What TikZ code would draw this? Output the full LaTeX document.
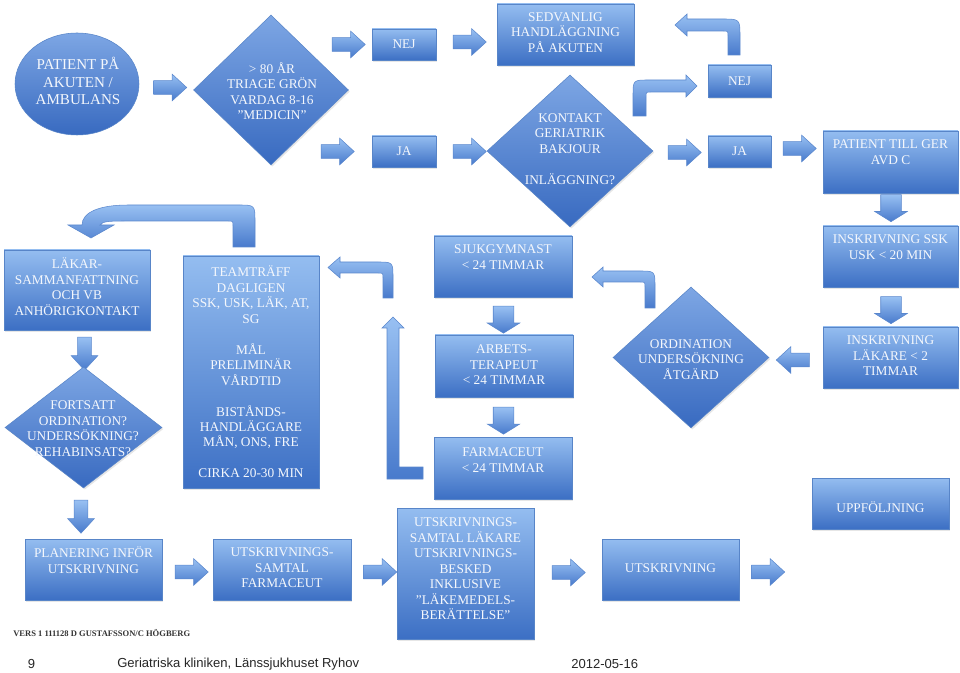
\documentclass[tikz,border=0pt]{standalone}
\usepackage{fontspec}
\setmainfont{Liberation Serif}
\newfontfamily\footfont{Liberation Sans}
\usetikzlibrary{shapes.geometric,shapes.arrows,shadows}

\definecolor{boxtop}{RGB}{148,189,240}
\definecolor{boxbot}{RGB}{60,111,196}
\definecolor{boxline}{RGB}{88,133,200}
\definecolor{diatop}{RGB}{125,166,228}
\definecolor{diabot}{RGB}{56,106,192}
\definecolor{arrtop}{RGB}{152,192,242}
\definecolor{arrbot}{RGB}{72,122,204}
\definecolor{arrline}{RGB}{90,135,205}
\definecolor{txtwhite}{RGB}{244,247,252}

\begin{document}
\begin{tikzpicture}[x=0.75pt,y=0.75pt,yscale=-1,xscale=1,
  box/.style 2 args={draw=boxline, top color=boxtop, bottom color=boxbot,
    minimum width=#1*0.75pt, minimum height=#2*0.75pt, inner sep=0pt,
    drop shadow={opacity=0.2, shadow xshift=1pt, shadow yshift=-1.2pt}},
  diam/.style 2 args={diamond, draw=boxline, top color=diatop, bottom color=diabot,
    minimum width=#1*0.75pt, minimum height=#2*0.75pt, inner sep=0pt,
    drop shadow={opacity=0.2, shadow xshift=1pt, shadow yshift=-1.2pt}},
  startoval/.style={ellipse, draw=boxline, top color=diatop, bottom color=diabot,
    minimum width=93pt, minimum height=76.5pt, inner sep=0pt},
  rarrow/.style={single arrow, single arrow head extend=4.9pt, single arrow tip angle=85,
    minimum width=19.5pt, minimum height=24.75pt, inner sep=4.9pt,
    draw=arrline, top color=arrtop, bottom color=arrbot},
  darrow/.style={single arrow, shape border rotate=270, single arrow head extend=4.5pt,
    single arrow tip angle=116, minimum width=24pt, minimum height=15pt, inner sep=7.5pt,
    draw=arrline, top color=arrtop, bottom color=arrbot},
  bendarrow/.style={draw=arrline, top color=arrtop, bottom color=arrbot},
  txt/.style={text=txtwhite, align=center, inner sep=0pt, font=\fontsize{10}{11.6}\selectfont},
  foot/.style={anchor=west, inner sep=0pt, text=black!85, font=\footfont\fontsize{9.8}{11}\selectfont}
]
\useasboundingbox (0,0) rectangle (960,673);

%Shape: Ellipse
\node[startoval] (start) at (77,84) {};
%Right Arrow
\node[rarrow] (ar1) at (166.5,87.5) {};
%Shape: Diamond
\node[diam={155}{150}] (triage) at (271,90) {};
%Right Arrow
\node[rarrow] (ar2) at (345,44.5) {};
%Right Arrow
\node[rarrow] (ar3) at (334,151.5) {};
%Shape: Rectangle
\node[box={64}{31}] (nej1) at (404,44.5) {};
%Shape: Rectangle
\node[box={64}{31}] (ja1) at (404,151.5) {};
%Right Arrow
\node[rarrow] (ar4) at (466,42) {};
%Right Arrow
\node[rarrow] (ar5) at (466,151.5) {};
%Shape: Rectangle
\node[box={137}{61}] (sedv) at (565.5,34.5) {};
%Shape: Diamond
\node[diam={166}{152}] (kontakt) at (570,151) {};
%Shape: Bend Arrow
\path[bendarrow] (633,116) -- (633,96) .. controls (633,80) .. (649,80) -- (686,80) -- (686,75) -- (697,86) -- (686,97) -- (686,92) -- (651,92) .. controls (646,92) .. (646,97) -- (646,116) -- cycle;
%Shape: Rectangle
\node[box={63}{32}] (nej2) at (739.5,81) {};
%Shape: Bend Arrow
\path[bendarrow] (728,55) -- (728,36) .. controls (728,31) .. (723,31) -- (687,31) -- (687,36) -- (675,25) -- (687,14) -- (687,19) -- (722,19) .. controls (740,19) .. (740,37) -- (740,55) -- cycle;
%Right Arrow
\node[rarrow] (ar6) at (681,152.5) {};
%Shape: Rectangle
\node[box={63}{31}] (ja2) at (739.5,151.5) {};
%Right Arrow
\node[rarrow] (ar7) at (796,148.5) {};
%Shape: Rectangle
\node[box={135}{62}] (gerc) at (890.5,162) {};
%Down Arrow
\node[darrow] (dn1) at (891,205) {};
%Shape: Rectangle
\node[box={135}{61}] (ssk) at (890.5,256.5) {};
%Down Arrow
\node[darrow] (dn2) at (891,307) {};
%Shape: Rectangle
\node[box={135}{61}] (lakare) at (890.5,357.5) {};
%Left Arrow
\node[rarrow, shape border rotate=180] (al1) at (796.5,360) {};
%Shape: Diamond
\node[diam={156}{141}] (ordination) at (691,357.5) {};
%Shape: Bend Arrow
\path[bendarrow] (645,308) -- (645,287) .. controls (645,282) .. (640,282) -- (603,282) -- (603,287) -- (592,277) -- (603,267) -- (603,271) -- (639,271) .. controls (655,271) .. (655,287) -- (655,308) -- cycle;
%Shape: Rectangle
\node[box={138}{61}] (sjuk) at (503,266.5) {};
%Down Arrow
\node[darrow] (dn3) at (503.5,316.5) {};
%Shape: Rectangle
\node[box={138}{62}] (arbets) at (504,366) {};
%Down Arrow
\node[darrow] (dn4) at (503.5,417.5) {};
%Shape: Rectangle
\node[box={138}{62}] (farma) at (503,468) {};
%Shape: L Arrow
\path[bendarrow] (423,467) -- (399,467) -- (399,328) -- (404,328) -- (393,317) -- (382,328) -- (387,328) -- (387,479) -- (423,479) -- cycle;
%Shape: Bend Arrow
\path[bendarrow] (383,298) -- (383,278) .. controls (383,273) .. (378,273) -- (340,273) -- (340,278) -- (328,267.5) -- (340,257) -- (340,262) -- (377,262) .. controls (393,262) .. (393,278) -- (393,298) -- cycle;
%Shape: Rectangle
\node[box={136}{232}] (team) at (251,372) {};
%Shape: Bend Arrow
\path[bendarrow] (255,247) -- (255,222) .. controls (255,205) .. (238,205) -- (128,205) .. controls (100,205) and (82,212) .. (82,225) -- (68,225) -- (91,238) -- (114,225) -- (100,225) .. controls (102,221) and (112,221) .. (128,221) -- (228,221) .. controls (233,221) .. (233,226) -- (233,247) -- cycle;
%Shape: Rectangle
\node[box={146}{80}] (lsam) at (77,290) {};
%Down Arrow
\node[rarrow, shape border rotate=270] (dn5) at (84.5,350) {};
%Shape: Diamond
\node[diam={157}{121}] (fortsatt) at (83.5,427.5) {};
%Down Arrow
\node[rarrow, shape border rotate=270] (dn6) at (81,513) {};
%Shape: Rectangle
\node[box={137}{61}] (plan) at (93.5,569.5) {};
%Right Arrow
\node[rarrow] (ar9) at (188,572) {};
%Shape: Rectangle
\node[box={138}{61}] (samf) at (282,569.5) {};
%Right Arrow
\node[rarrow] (ar10) at (376.5,572) {};
%Shape: Rectangle
\node[box={137}{131}] (saml) at (465.5,573.5) {};
%Right Arrow
\node[rarrow] (ar11) at (565,572.5) {};
%Shape: Rectangle
\node[box={137}{61}] (utskr) at (670.5,569.5) {};
%Right Arrow
\node[rarrow] (ar12) at (764.5,572) {};
%Shape: Rectangle
\node[box={137}{51}] (uppf) at (880.5,503.5) {};

% Text Node
\node[txt, font=\fontsize{11.3}{13.1}\selectfont] (start-t) at (78,81) {PATIENT PÅ\\AKUTEN /\\AMBULANS};
% Text Node
\node[txt] (triage-t) at (272,91) {> 80 ÅR\\TRIAGE GRÖN\\VARDAG 8-16\\”MEDICIN”};
% Text Node
\node[txt] (nej1-t) at (404,44.5) {NEJ};
% Text Node
\node[txt] (ja1-t) at (404,151.5) {JA};
% Text Node
\node[txt] (sedv-t) at (565.5,32.5) {SEDVANLIG\\HANDLÄGGNING\\PÅ AKUTEN};
% Text Node
\node[txt] (kontakt-t) at (570,149) {KONTAKT\\GERIATRIK\\BAKJOUR\\[11.6pt]INLÄGGNING?};
% Text Node
\node[txt] (nej2-t) at (739.5,81) {NEJ};
% Text Node
\node[txt] (ja2-t) at (739.5,151.5) {JA};
% Text Node
\node[txt] (gerc-t) at (890.5,152) {PATIENT TILL GER\\AVD C};
% Text Node
\node[txt] (ssk-t) at (890.5,247) {INSKRIVNING SSK\\USK < 20 MIN};
% Text Node
\node[txt] (lakare-t) at (890.5,356) {INSKRIVNING\\LÄKARE < 2\\TIMMAR};
% Text Node
\node[txt] (ordination-t) at (691,359.5) {ORDINATION\\UNDERSÖKNING\\ÅTGÄRD};
% Text Node
\node[txt] (sjuk-t) at (503,257) {SJUKGYMNAST\\< 24 TIMMAR};
% Text Node
\node[txt] (arbets-t) at (504,365) {ARBETS-\\TERAPEUT\\< 24 TIMMAR};
% Text Node
\node[txt] (farma-t) at (503,460) {FARMACEUT\\< 24 TIMMAR};
% Text Node
\node[txt] (team-t) at (251,372) {TEAMTRÄFF\\DAGLIGEN\\SSK, USK, LÄK, AT,\\SG\\[11.6pt]MÅL\\PRELIMINÄR\\VÅRDTID\\[11.6pt]BISTÅNDS-\\HANDLÄGGARE\\MÅN, ONS, FRE\\[11.6pt]CIRKA 20-30 MIN};
% Text Node
\node[txt] (lsam-t) at (77,286.5) {LÄKAR-\\SAMMANFATTNING\\OCH VB\\ANHÖRIGKONTAKT};
% Text Node
\node[txt] (fortsatt-t) at (83,428.5) {FORTSATT\\ORDINATION?\\UNDERSÖKNING?\\REHABINSATS?};
% Text Node
\node[txt] (plan-t) at (93.5,560) {PLANERING INFÖR\\UTSKRIVNING};
% Text Node
\node[txt] (samf-t) at (282,568) {UTSKRIVNINGS-\\SAMTAL\\FARMACEUT};
% Text Node
\node[txt] (saml-t) at (465.5,569) {UTSKRIVNINGS-\\SAMTAL LÄKARE\\UTSKRIVNINGS-\\BESKED\\INKLUSIVE\\”LÄKEMEDELS-\\BERÄTTELSE”};
% Text Node
\node[txt] (utskr-t) at (670.5,568) {UTSKRIVNING};
% Text Node
\node[txt] (uppf-t) at (880.5,507) {UPPFÖLJNING};
% Text Node
\node[anchor=west, inner sep=0pt, text=black!80, font=\bfseries\fontsize{6.4}{7.5}\selectfont] (vers) at (13,633) {VERS 1 111128 D GUSTAFSSON/C HÖGBERG};
% Text Node
\node[foot, anchor=center] (page) at (31.5,664) {9};
% Text Node
\node[foot] (clinic) at (117,664) {Geriatriska kliniken, Länssjukhuset Ryhov};
% Text Node
\node[foot] (date) at (571,664) {2012-05-16};

\end{tikzpicture}
\end{document}
